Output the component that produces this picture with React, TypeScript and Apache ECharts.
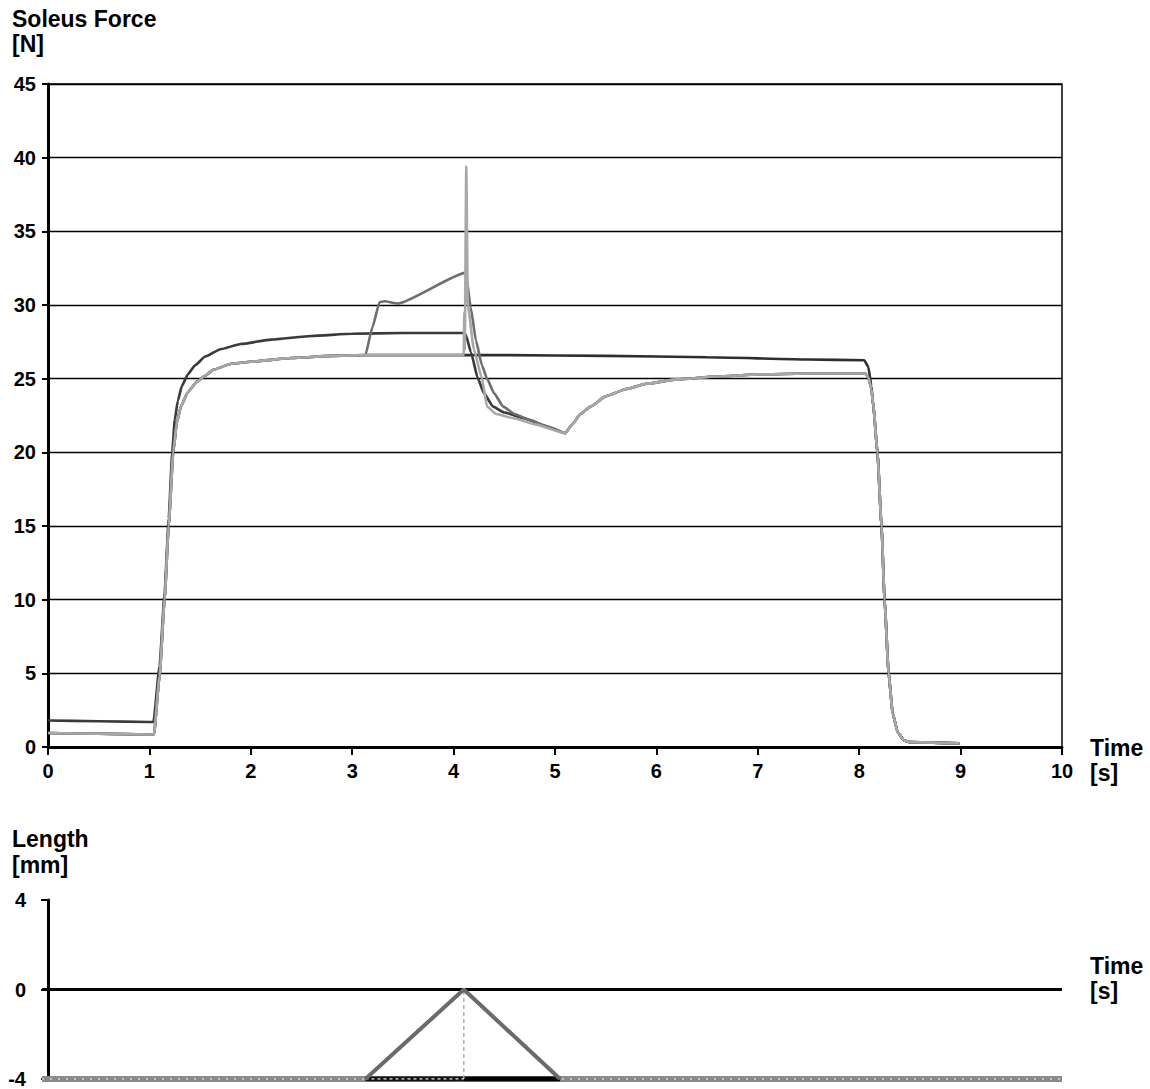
import React, { useEffect, useRef } from "react";
import * as echarts from "echarts";

// ---- Force traces (time s, force N) ----
const riseDark: [number, number][] = [
  [0, 1.8], [0.5, 1.75], [1.0, 1.7], [1.04, 1.7], [1.1, 5.5], [1.15, 10.5], [1.19, 15.5],
  [1.225, 20], [1.25, 22.2], [1.28, 23.5], [1.32, 24.5], [1.38, 25.3], [1.45, 25.9],
  [1.55, 26.5], [1.7, 27.0], [1.9, 27.35], [2.2, 27.65], [2.6, 27.9], [3.0, 28.05],
  [3.5, 28.1], [4.1, 28.1],
];
const riseGray: [number, number][] = [
  [0, 0.95], [0.5, 0.9], [1.0, 0.85], [1.045, 0.85], [1.1, 4.8], [1.15, 10], [1.19, 15],
  [1.235, 20], [1.27, 22], [1.31, 23.1], [1.38, 24.1], [1.47, 24.8], [1.55, 25.2],
  [1.63, 25.6], [1.8, 26.0], [2.0, 26.15], [2.4, 26.4], [2.8, 26.55], [3.13, 26.6],
];
const shortenDark: [number, number][] = [
  [4.12, 28.0], [4.17, 26.8], [4.24, 25], [4.3, 24], [4.39, 23.1], [4.5, 22.7],
  [4.7, 22.3], [4.9, 21.8],
];
const stretchShorten: [number, number][] = [
  [3.2, 28.5], [3.27, 30.2], [3.32, 30.25], [3.45, 30.1], [4.12, 32.2], [4.17, 29.8],
  [4.22, 27.6], [4.28, 25.9], [4.33, 25], [4.4, 24], [4.49, 23.1], [4.6, 22.6],
  [4.75, 22.2], [4.95, 21.7],
];
const quickStretch: [number, number][] = [
  [4.1, 26.6], [4.105, 29.5], [4.11, 27], [4.125, 39.4], [4.14, 30], [4.2, 27],
  [4.28, 25], [4.33, 23.1], [4.42, 22.6], [4.6, 22.3], [4.8, 21.9],
];
const recovery: [number, number][] = [
  [5.1, 21.3], [5.17, 21.9], [5.25, 22.6], [5.35, 23.1], [5.5, 23.8], [5.7, 24.3],
  [5.9, 24.65], [6.2, 24.95], [6.6, 25.15], [7.0, 25.28], [7.5, 25.35], [8.06, 25.35],
  [8.09, 25.1], [8.12, 24.3],
];
const isoShortTail: [number, number][] = [
  [4.1, 26.6], [4.5, 26.6], [5.5, 26.55], [6.5, 26.45], [7.5, 26.3], [8.05, 26.25],
  [8.09, 25.8], [8.12, 24.5],
];
const relaxation: [number, number][] = [
  [8.14, 23.1], [8.18, 20], [8.22, 15], [8.25, 10], [8.29, 5], [8.33, 2.3], [8.38, 1.0],
  [8.44, 0.45], [8.5, 0.33], [8.99, 0.25],
];

// ---- Length traces (time s, length mm) ----
const lengthZero: [number, number][] = [[-0.06, 0], [10, 0]];
const lengthShort: [number, number][] = [[-0.06, -4], [10, -4]];
const lengthHoldDotted: [number, number][] = [[3.13, -4], [4.1, -4]];
const lengthHoldSolid: [number, number][] = [[4.1, -4], [5.05, -4]];
const lengthTriangle: [number, number][] = [[3.13, -4], [4.1, 0], [5.05, -4]];
const lengthStep: [number, number][] = [[4.1, -4], [4.1, 0]];

const FONT = '"Liberation Sans", Arial, Helvetica, sans-serif';

export default function App() {
  const ref = useRef<HTMLDivElement>(null);
  useEffect(() => {
    document.body.style.margin = "0";
    const chart = echarts.init(ref.current!, null, { renderer: "svg" });
    const forceLine = (name: string, data: [number, number][], color: string, width = 2.6) => ({
      name,
      type: "line",
      xAxisIndex: 0,
      yAxisIndex: 0,
      data,
      showSymbol: false,
      symbol: "none",
      smooth: 0.15,
      smoothMonotone: "x",
      lineStyle: { color, width },
      z: 3,
    });
    const lenLine = (name: string, data: [number, number][], color: string, width: number, type: any = "solid", z = 3) => ({
      name,
      type: "line",
      xAxisIndex: 1,
      yAxisIndex: 1,
      data,
      showSymbol: false,
      symbol: "none",
      lineStyle: { color, width, type, cap: "butt" },
      z,
    });
    const labelStyle = { color: "#000", fontWeight: "bold", fontSize: 20, fontFamily: FONT };
    const titleStyle = (text: string, x: number, y: number) => ({
      type: "text",
      left: x,
      top: y,
      style: { text, fill: "#000", font: `bold 23px ${FONT}` },
    });
    chart.setOption({
      animation: false,
      backgroundColor: "#fff",
      grid: [
        { left: 48, right: 88, top: 84, bottom: 342, show: true, borderColor: "#000", borderWidth: 1.5, backgroundColor: "transparent" },
        { left: 42, right: 88, top: 900, bottom: 9 },
      ],
      xAxis: [
        {
          gridIndex: 0, type: "value", min: 0, max: 10, interval: 1,
          axisLine: { show: true, lineStyle: { color: "#000", width: 3 } },
          axisTick: { show: true, length: 8, lineStyle: { color: "#000", width: 2 } },
          axisLabel: { ...labelStyle, margin: 14 },
          splitLine: { show: false },
        },
        {
          gridIndex: 1, type: "value", min: -0.06, max: 10,
          axisLine: { show: false }, axisTick: { show: false }, axisLabel: { show: false },
          splitLine: { show: false },
        },
      ],
      yAxis: [
        {
          gridIndex: 0, type: "value", min: 0, max: 45, interval: 5,
          axisLine: { show: true, lineStyle: { color: "#000", width: 3 } },
          axisTick: { show: true, length: 6, lineStyle: { color: "#000", width: 2 } },
          axisLabel: { ...labelStyle, margin: 12 },
          splitLine: { show: true, lineStyle: { color: "#000", width: 1.3 } },
        },
        {
          gridIndex: 1, type: "value", min: -4, max: 4, interval: 4,
          axisLine: { show: true, lineStyle: { color: "#000", width: 3 } },
          axisTick: { show: true, length: 7, lineStyle: { color: "#000", width: 2 } },
          axisLabel: { ...labelStyle, margin: 16 },
          splitLine: { show: false },
        },
      ],
      graphic: [
        titleStyle("Soleus Force", 12, 7),
        titleStyle("[N]", 12, 32),
        titleStyle("Time", 1090, 736),
        titleStyle("[s]", 1090, 761),
        titleStyle("Length", 12, 827),
        titleStyle("[mm]", 12, 853),
        titleStyle("Time", 1090, 954),
        titleStyle("[s]", 1090, 979),
      ],
      series: [
        forceLine("Isometric short", [...riseGray, ...isoShortTail, ...relaxation], "#2e2e2e"),
        forceLine("Shortening", [...riseDark, ...shortenDark, ...recovery, ...relaxation], "#3a3a3a"),
        forceLine("Stretch-shortening", [...riseGray, ...stretchShorten, ...recovery, ...relaxation], "#6e6e6e"),
        forceLine("Quick stretch-shortening", [...riseGray, ...quickStretch, ...recovery, ...relaxation], "#a8a8a8"),
        lenLine("Zero", lengthZero, "#000", 3),
        lenLine("Short", lengthShort, "#8a8a8a", 6),
        lenLine("Short dots", lengthShort, "#e6e6e6", 1.6, [2, 6], 4),
        lenLine("Hold dotted", lengthHoldDotted, "#111", 5, "solid", 5),
        lenLine("Hold dots", lengthHoldDotted, "#dddddd", 1.6, [3, 3], 6),
        lenLine("Hold solid", lengthHoldSolid, "#000", 5, "solid", 5),
        lenLine("Ramp", lengthTriangle, "#6a6a6a", 4, "solid", 6),
        lenLine("Step", lengthStep, "#b0b0b0", 1.5, [4, 3], 5),
      ],
    });
    return () => chart.dispose();
  }, []);
  return (
    <div
      ref={ref}
      style={{ position: "absolute", left: 0, top: 0, width: 1150, height: 1089, background: "#fff" }}
    />
  );
}
